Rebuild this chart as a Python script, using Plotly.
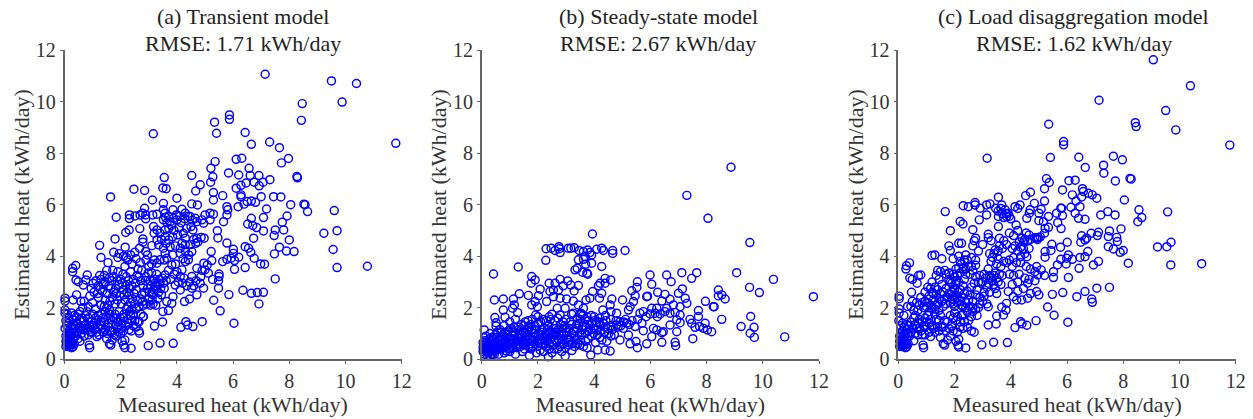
import plotly.graph_objects as go

tick_values = [0, 2, 4, 6, 8, 10, 12]
panel_title_lines = [("(a) Transient model", "RMSE: 1.71 kWh/day"),
                     ("(b) Steady-state model", "RMSE: 2.67 kWh/day"),
                     ("(c) Load disaggregation model", "RMSE: 1.62 kWh/day")]
x_label = "Measured heat (kWh/day)"
y_label = "Estimated heat (kWh/day)"

points_a = [
(7.14,11.06),(9.5,10.8),(10.39,10.7),(9.88,9.98),(8.46,9.92),(8.43,9.27),(11.79,8.38),(3.16,8.75),(5.87,9.48),(5.87,9.31),
(5.34,9.2),(5.41,8.77),(6.43,8.8),(6.65,8.34),(7.3,8.43),(7.65,8.21),(7.97,7.79),(7.72,7.62),(6.11,7.76),(6.31,7.8),
(5.36,7.67),(5.21,7.41),(5.28,7.08),(5.2,6.87),(4.53,7.13),(3.55,7.05),(5.84,7.23),(6.2,7.15),(6.57,7.41),(6.61,7.13),
(6.92,7.13),(7.31,6.97),(7.07,6.87),(6.75,6.87),(6.46,6.84),(6.28,6.75),(6.11,6.64),(6.93,6.73),(8.27,7.09),(8.29,7.04),
(4.83,6.77),(4.67,6.53),(3.5,6.65),(3.62,6.62),(2.47,6.6),(2.85,6.55),(1.64,6.3),(3.13,6.18),(4.0,6.25),(3.52,6.05),
(5.3,6.47),(5.3,6.18),(5.63,6.35),(6.28,6.38),(6.28,6.31),(7.0,6.31),(7.44,6.31),(7.7,6.3),(6.5,6.12),(6.65,6.14),
(6.39,6.02),(6.8,6.09),(8.05,6.0),(8.52,6.02),(8.56,6.0),(8.65,5.73),(9.6,5.77),(7.19,5.83),(6.18,5.92),(5.78,5.92),
(5.81,5.8),(5.78,5.6),(4.53,6.03),(4.73,5.99),(5.66,5.34),(5.44,4.99),(5.46,4.71),(6.65,5.47),(6.52,5.25),(6.7,5.19),
(6.84,5.11),(7.08,4.98),(7.08,5.5),(7.5,5.02),(7.46,4.8),(7.8,5.02),(7.75,5.32),(7.92,5.56),(6.73,4.7),(5.78,4.51),
(8.0,4.63),(9.23,4.89),(9.7,4.99),(9.56,4.26),(9.7,3.56),(10.78,3.61),(7.65,4.35),(7.47,4.09),(7.9,4.2),(8.17,4.18),
(7.5,3.12),(6.43,4.37),(6.55,4.31),(6.63,4.15),(6.75,3.92),(6.98,3.7),(7.12,3.69),(6.01,4.27),(6.01,4.11),(6.2,3.96),
(5.93,3.92),(5.78,3.88),(5.63,3.79),(6.05,3.83),(6.05,3.49),(6.43,3.56),(6.35,2.68),(6.65,2.56),(6.86,2.59),(7.08,2.6),
(6.92,2.15),(5.85,2.51),(6.03,1.4),(5.31,2.29),(5.54,1.88),(5.48,2.76),(5.5,3.31),(5.5,3.21),(5.48,3.05),(5.22,4.18),
(5.24,3.83),(5.08,3.66),(4.96,3.73),(5.12,3.34),(5.27,3.1),
(2.31,5.6),(2.31,5.46),(2.51,5.56),(2.69,5.6),(2.78,5.67),(2.89,5.6),(2.89,5.45),(3.14,5.6),(3.29,5.63),(2.85,5.86),
(1.84,5.51),(2.68,5.07),(2.18,4.92),(2.3,5.02),(1.8,4.67),(1.25,4.42),(1.3,3.95),(2.16,4.35),(2.79,4.67),(2.79,4.54),
(2.89,4.18),(2.67,4.31),(3.17,5.15),(3.19,4.89),(3.29,5.02),(3.4,4.89),(3.29,4.63),(3.35,4.44),(3.11,4.41),(3.52,5.41),
(3.58,5.67),(3.52,5.8),(3.86,5.8),(3.71,5.54),(3.88,5.47),(3.76,5.34),(4.0,5.41),(3.58,5.02),(3.71,5.08),(3.58,4.76),
(3.71,4.63),(3.52,4.31),(3.58,4.11),(3.76,4.37),(4.02,4.83),(4.18,4.5),(4.12,4.31),(4.12,4.11),(4.3,4.7),(4.23,4.89),
(4.35,5.08),(4.5,5.15),(4.57,5.02),(4.18,5.82),(4.3,5.67),(4.47,5.54),(4.65,5.47),(4.71,5.34),(4.95,5.28),(5.0,5.6),
(5.18,5.67),(5.3,5.63),(4.89,5.41),(5.18,5.41),(4.86,4.73),(4.97,4.7),(4.71,4.7),(4.67,4.5),(4.53,4.18),(4.41,3.86),
(4.3,3.79),(4.71,3.53),(4.18,3.47),(4.53,3.21),(4.12,3.21),(4.0,3.4),(3.94,2.88),(4.12,2.69),(4.27,2.24),(4.45,2.34),
(4.71,2.5),(4.53,2.76),(4.95,2.76),(4.83,2.95),(5.0,3.47),(3.86,2.43),(3.82,2.17),(3.7,1.89),(3.5,1.85),(3.49,1.45),
(3.2,1.29),(4.14,1.24),(4.32,1.46),(4.38,1.33),(4.57,1.27),(4.9,1.46),(2.98,0.53),(3.4,0.63),(3.87,0.62),(2.37,0.43),
(3.64,2.24),(3.64,3.92),(3.82,3.66),(3.4,3.86),(3.29,3.73),(3.58,3.27),(3.52,2.95),(3.29,2.82),(3.11,2.56),(2.81,1.66),
(2.67,1.01),(2.61,1.46),(0.4,3.64),(0.29,3.53),(0.29,3.4),(0.41,3.08),(0.49,3.01),(0.81,3.27),(0.76,3.08),(0.67,2.88),
(0.31,2.3),(0.43,2.5),(0.02,2.37),(0.02,2.26),(0.02,1.91),(0.02,1.79),
(0.05,0.5),(0.1,0.55),(0.15,0.6),(0.2,0.5),(0.25,0.45),(0.3,0.48),(0.05,0.7),(0.1,0.75),(0.15,0.8),(0.2,0.7),
(0.25,0.65),(0.3,0.8),(0.35,0.6),(0.05,0.9),(0.1,1.0),(0.15,1.1),(0.2,0.95),(0.25,1.0),(0.3,1.15),(0.35,1.0),
(0.4,0.9),(0.45,1.05),(0.02,1.2),(0.08,1.3),(0.15,1.4),(0.22,1.25),(0.3,1.35),(0.38,1.3),(0.45,1.4),(0.5,1.2),
(0.05,1.5),(0.15,1.6),(0.3,1.55),(0.42,1.65),(0.55,0.7),(0.6,1.0),(0.6,1.3),(0.55,1.55),(0.1,1.75),(0.25,1.8),
(0.7,0.9),(0.88,0.55),(0.9,0.45),(0.85,0.95),(0.75,1.2),(0.9,1.25),(0.7,1.5),(0.85,1.6),(1.0,1.05),(1.15,0.88),
(1.2,1.2),(1.05,1.4),(1.3,1.5),(1.2,1.7),(1.0,1.75),(0.8,1.85),(1.4,1.05),(1.5,0.8),(1.6,0.6),(1.65,0.55),
(1.7,0.75),(1.55,1.25),(1.7,1.1),(1.85,0.9),(1.9,1.25),(1.65,1.55),(1.85,1.6),(1.45,1.85),(1.6,1.9),(1.95,1.85),
(2.05,0.7),(2.1,0.55),(2.15,0.45),(2.15,0.75),(2.1,1.1),(2.3,1.15),(2.05,1.4),(2.25,1.55),(2.35,1.7),(2.5,1.5),
(2.65,1.45),(2.65,1.1),(2.45,1.3),(2.8,1.65),(0.85,2.05),(1.0,2.2),(0.9,2.45),(1.05,2.6),(1.2,2.4),(1.3,2.1),
(1.45,2.3),(1.35,2.65),(1.2,2.85),(1.3,3.1),(1.25,3.25),(1.45,3.0),(1.5,3.45),(1.55,3.75),(1.6,3.15),(1.65,2.75),
(1.7,2.4),(1.8,2.15),(1.85,2.55),(1.95,2.9),(1.75,3.2),(1.9,3.4),(2.0,3.1),(2.1,2.7),(2.15,2.3),(2.25,2.05),
(2.3,2.5),(2.4,2.85),(2.2,3.2),(2.35,3.4),(2.45,3.1),(2.55,2.7),(2.6,2.3),(2.65,2.05),(2.75,2.5),(2.8,2.85),
(2.65,3.2),(2.75,3.45),(2.15,3.6),(2.25,3.85),(2.4,3.7),(2.55,3.9),(2.7,3.75),(1.75,4.15),(1.95,4.1),(1.9,3.95),
(2.1,4.0),(2.2,3.95),(2.35,4.05),(2.5,4.15),(2.9,3.2),(2.95,2.75),(3.0,2.35),(3.05,2.1),(3.15,2.15),(3.25,2.1),
(3.15,2.5),(3.25,2.85),(3.05,3.05),(3.1,3.35),(3.2,3.1),(3.35,2.6),(3.4,2.95),(3.45,2.5),(3.0,3.6),(2.9,3.85),
(1.02,2.95),(1.12,3.05),(1.18,2.55),(1.28,2.72),(1.38,2.9),(1.42,3.25),(1.52,2.55),(1.58,2.85),(1.68,3.05),(1.72,3.45),
(1.82,2.75),(1.88,3.05),(1.98,2.45),(2.05,2.95),(2.08,3.3),(2.18,2.85),(2.28,3.05),(2.32,2.75),(2.42,2.35),(2.48,2.55),
(2.52,2.95),(2.58,3.25),(2.62,3.5),(2.72,3.05),(2.78,2.25),(2.85,2.6),(2.88,3.05),(2.98,3.35),(3.02,2.6),(3.08,2.85),
(3.12,2.3),(3.18,2.7),(3.22,2.95),(3.28,3.3),(3.32,2.35),(3.38,3.1),(3.42,2.75),(3.48,3.15),(3.55,2.75),(3.62,3.05),
(0.85,1.15),(0.95,1.45),(1.08,1.2),(1.1,1.6),(1.15,1.05),(1.25,1.35),(1.32,1.75),(1.35,1.2),(1.42,1.45),(1.48,1.65),
(1.52,1.0),(1.58,1.4),(1.62,1.75),(1.72,1.35),(1.78,0.95),(1.8,1.75),(1.92,1.05),(1.98,1.6),(2.02,1.2),(2.12,1.75),
(2.18,1.3),(2.2,1.95),(2.32,1.85),(2.4,1.95),(2.45,1.75),(2.55,1.95),(2.72,1.75),(2.82,2.1),(2.92,2.15),(1.1,1.95),
(0.12,0.5),(0.18,0.62),(0.08,0.62),(0.22,0.85),(0.12,0.9),(0.28,0.58),(0.18,1.0),(0.35,1.2),(0.12,1.2),(0.48,0.8),
(0.65,1.15),(0.7,1.3),(0.75,1.7),(0.55,1.85),(0.65,2.0),(0.7,2.25),(0.95,2.75),(0.58,2.25),(1.42,2.05),(1.55,2.1),
(3.55,3.85),(3.7,3.45),(3.78,3.1),(3.9,3.3),(3.95,3.7),(4.05,3.0),(4.2,2.95),(4.25,3.15),(4.35,2.85),(4.45,3.0),
(4.6,2.85),(4.68,3.05),(4.85,3.2),(4.9,3.45),(3.85,4.05),(3.95,4.4),(3.85,4.75),(3.9,5.0),(4.08,5.1),(4.15,5.3),
(4.28,5.45),(4.4,5.55),(4.55,5.4),(4.1,5.55),(3.98,5.6),(3.8,5.2),(3.65,5.3),(3.6,5.5),(3.45,4.65),(3.62,4.5),
(4.22,3.9),(4.3,4.2),(4.42,4.05),(4.48,4.45),(4.6,4.65),(4.75,4.55),(4.3,4.45),(3.2,3.85),(3.1,3.7),(2.95,4.05),
(0.35,1.7),(0.5,1.75),(0.62,1.6),(0.78,1.35),(0.92,1.05),(1.02,1.3),(1.12,1.5),(1.22,0.95),(1.3,1.3),(1.38,1.62),
(1.45,1.15),(1.62,1.1),(1.75,1.6),(1.9,1.45),(2.0,1.0),(2.08,1.62),(2.28,1.4),(2.38,1.1),(2.55,1.25),(2.4,1.5),
(1.5,2.0),(1.62,2.25),(1.75,2.6),(1.88,2.3),(2.02,2.15),(2.12,2.5),(2.22,2.6),(2.35,2.2),(2.5,2.15),(2.7,2.35),
]

points_b = [
(8.87,7.45),(7.3,6.36),(8.05,5.47),(9.54,4.53),(3.94,4.86),(2.29,4.29),(2.47,4.31),(2.61,4.22),(2.75,4.37),(2.76,4.29),
(2.79,4.14),(3.08,4.31),(3.17,4.31),(3.29,4.33),(3.47,4.22),(3.62,4.18),(3.77,4.24),(3.85,4.14),(3.91,4.05),(4.09,4.27),
(4.27,4.31),(4.33,4.22),(4.66,4.22),(4.66,4.11),(5.1,4.22),(2.28,3.84),(3.44,3.86),(3.62,3.88),(3.68,3.98),(3.7,3.69),
(3.91,3.73),(4.27,3.6),(3.32,3.47),(3.4,3.53),(3.59,3.38),(3.74,3.34),(3.77,3.3),(0.42,3.31),(1.3,3.58),(1.78,3.21),
(1.9,3.08),(1.76,2.95),(2.4,2.95),(2.79,3.1),(2.61,2.95),(3.06,3.04),(2.9,2.85),(3.17,2.88),(3.44,2.86),(3.29,2.65),
(2.43,2.63),(2.08,2.72),(2.55,2.69),(2.73,2.69),(4.39,3.14),(4.59,3.08),(4.21,2.95),(4.39,2.95),(4.15,2.85),(3.95,2.63),
(4.27,2.56),(4.19,2.37),(4.63,2.34),(3.85,2.37),(3.71,2.3),(0.45,2.3),(0.77,2.34),(0.77,1.91),(0.83,1.63),(0.47,1.62),
(0.51,1.42),(0.51,1.29),(0.09,1.14),(1.13,2.34),(1.34,2.54),(1.16,2.11),(1.1,1.98),(1.28,1.81),(1.66,2.48),(1.78,2.11),
(1.9,2.24),(2.02,2.47),(1.98,2.04),(2.31,2.24),(1.92,1.72),(2.55,2.43),(2.79,2.37),(3.02,2.34),(3.26,2.26),(3.44,2.11),
(2.69,1.98),(2.97,1.98),(2.79,1.72),(3.26,1.79),(3.62,1.98),(3.53,1.79),(4.31,1.91),(4.57,2.11),
(5.99,3.27),(6.05,2.91),(6.58,3.27),(6.74,3.01),(7.12,3.36),(7.65,3.36),(7.47,3.14),(9.07,3.36),(10.38,3.1),(9.53,2.79),
(9.88,2.59),(11.8,2.43),(5.54,3.01),(5.52,2.79),(5.34,2.66),(5.46,2.46),(5.87,2.43),(5.9,2.45),(6.26,2.6),(6.52,2.52),
(6.41,2.26),(6.7,2.33),(7.0,2.56),(7.14,2.73),(7.24,2.37),(7.3,2.17),(5.01,2.3),(5.4,2.24),(5.28,2.04),(5.22,1.91),
(6.05,1.98),(6.23,1.98),(6.58,1.98),(6.82,2.11),(7.06,2.04),(7.96,2.25),(8.24,2.04),(8.27,2.04),(8.42,2.69),(8.42,2.46),
(8.54,2.5),(8.66,2.34),(8.54,1.55),(9.57,1.66),(9.23,1.27),(9.69,1.24),(9.55,1.01),(9.7,0.85),(10.78,0.87),
(7.71,1.89),(7.71,1.66),(7.41,1.55),(7.47,1.4),(7.59,1.24),(7.75,1.27),(7.95,1.4),(7.89,1.2),(8.03,1.14),(8.18,1.07),
(7.51,0.8),(6.94,1.07),(6.88,0.66),(6.9,0.53),(6.41,0.66),(6.46,1.07),(6.05,0.88),(5.87,0.6),(5.54,0.45),(5.49,0.69),
(5.28,0.6),(5.22,0.94),(4.92,0.75),(4.57,0.32),(4.39,0.36),(3.88,0.17),(2.97,0.13),(3.21,0.34),(2.37,0.1),(4.13,0.36),
(5.63,1.79),(5.75,1.85),(5.99,1.76),(6.17,1.79),(6.35,1.76),(6.52,1.85),(6.7,1.79),(6.88,1.82),(7.06,1.72),(6.94,1.53),
(7.06,1.42),(6.7,1.33),(6.11,1.2),(6.23,1.14),(5.75,1.11),(6.41,1.03),(5.46,1.27),(5.16,1.4),(4.92,1.46),(4.8,1.33),
(5.04,1.2),(4.8,1.79),(4.6,1.85),(4.4,1.7),(4.2,1.6),(4.0,1.65),(3.8,1.5),(3.6,1.7),(3.4,1.6),(3.2,1.75),(3.0,1.55),
(4.6,1.3),(4.4,1.25),(4.2,1.35),(4.0,1.2),(3.8,1.1),(3.6,1.3),(3.4,1.2),(3.2,1.35),(3.0,1.2),(2.8,1.35),(2.6,1.5),(2.4,1.65),(2.2,1.55),(2.0,1.4),
(4.6,0.9),(4.45,0.7),(4.2,0.85),(4.05,0.65),(3.9,0.9),(3.7,0.7),(3.55,0.95),(3.35,0.75),(3.2,1.0),(3.05,0.8),(2.9,0.6),(2.75,0.95),(2.6,0.75),(2.45,1.05),(2.3,0.85),(2.15,1.15),
(0.05,0.3),(0.1,0.2),(0.15,0.35),(0.2,0.15),(0.25,0.25),(0.3,0.12),(0.35,0.3),(0.05,0.45),(0.1,0.55),(0.15,0.5),
(0.2,0.42),(0.25,0.6),(0.3,0.48),(0.35,0.55),(0.4,0.4),(0.45,0.2),(0.05,0.65),(0.12,0.72),(0.2,0.68),(0.28,0.8),
(0.36,0.72),(0.44,0.62),(0.5,0.35),(0.55,0.52),(0.6,0.2),(0.62,0.75),(0.7,0.4),(0.72,0.62),(0.75,0.95),(0.8,0.25),
(0.85,0.5),(0.9,0.8),(0.95,1.1),(1.0,0.3),(1.05,0.6),(1.1,0.9),(1.15,1.25),(1.2,0.2),(1.25,0.45),(1.3,0.7),
(1.35,1.0),(1.4,1.35),(1.45,0.3),(1.5,0.55),(1.55,0.85),(1.6,1.15),(1.65,1.5),(1.7,0.15),(1.75,0.4),(1.8,0.7),
(1.85,1.0),(1.9,1.3),(1.95,0.25),(2.0,0.5),(2.05,0.8),(2.1,1.05),(2.2,0.3),(2.25,0.6),(2.4,0.4),(2.5,0.25),
(2.55,0.55),(2.7,0.4),(2.85,0.3),(3.1,0.55),(3.3,0.5),(3.5,0.55),(3.75,0.45),(0.15,0.9),(0.3,1.0),(0.45,0.85),
(0.55,1.05),(0.65,1.15),(0.8,1.3),(1.0,1.45),(1.2,1.55),(1.5,1.3),(1.75,1.35),(2.0,1.65),(2.35,1.3),(2.65,1.2),
(0.95,0.65),(1.15,0.75),(1.4,0.85),(1.65,0.95),(1.9,0.6),(2.3,0.95),(2.55,1.2),(2.85,1.05),(3.15,1.45),(3.45,1.4),
(0.08,0.38),(0.18,0.28),(0.22,0.52),(0.32,0.38),(0.38,0.18),(0.42,0.52),(0.48,0.68),(0.58,0.38),(0.65,0.55),(0.68,0.88),
(0.78,0.45),(0.82,0.72),(0.88,0.32),(0.92,0.55),(0.98,0.85),(1.02,1.2),(1.08,0.42),(1.12,0.62),(1.18,0.95),(1.22,0.55),
(1.28,0.85),(1.32,1.15),(1.38,0.5),(1.42,0.7),(1.48,1.05),(1.52,0.4),(1.58,0.65),(1.62,0.95),(1.68,0.5),(1.72,0.8),
(1.78,1.15),(1.82,0.5),(1.88,0.85),(1.92,1.15),(1.98,0.7),(2.02,0.95),(2.08,0.35),(2.12,0.6),(2.18,0.85),(2.22,1.2),
(2.28,0.5),(2.32,0.72),(2.38,1.05),(2.42,0.6),(2.48,0.85),(2.52,1.05),(2.58,0.4),(2.62,0.95),(2.68,0.65),(2.72,1.15),
(2.78,0.5),(2.82,0.8),(2.88,1.2),(2.92,0.95),(2.98,0.45),(3.02,1.05),(3.08,0.65),(3.12,1.2),(3.18,0.85),(3.22,0.6),
(3.28,1.1),(3.32,0.9),(3.38,1.35),(3.42,0.6),(3.48,1.0),(3.52,0.75),(3.58,1.15),(3.62,0.5),(3.68,1.0),(3.72,1.25),
(3.78,0.8),(3.82,1.35),(3.88,1.15),(3.92,1.4),(3.98,1.0),(4.02,1.5),(4.08,1.15),(4.12,0.95),(4.18,1.45),(4.22,1.1),
(4.28,0.75),(4.32,1.4),(4.38,1.05),(4.42,1.5),(4.48,1.2),(4.52,1.0),(4.58,1.55),(4.65,1.15),(4.72,0.95),(4.78,1.5),
(4.85,1.25),(4.95,1.3),(5.05,1.45),(5.12,1.55),(5.25,1.35),(5.35,1.5),(5.55,1.55),(5.7,1.4),(5.85,1.65),(6.25,1.65),
(3.5,1.55),(3.7,1.55),(3.55,1.75),(3.75,1.65),(3.9,1.7),(4.1,1.45),(2.9,1.45),(2.7,1.6),(2.5,1.75),(2.3,1.5),
(1.1,1.1),(1.3,1.25),(1.55,1.45),(1.8,1.55),(2.1,1.45),(2.45,1.55),(0.35,0.85),(0.5,0.95),(0.7,1.05),(0.85,1.05),
(0.1,0.42),(0.14,0.62),(0.22,0.32),(0.28,0.42),(0.32,0.62),(0.42,0.3),(0.48,0.46),(0.52,0.62),(0.56,0.85),(0.62,0.48),
(0.74,0.78),(0.76,0.5),(0.84,0.62),(0.9,0.95),(0.96,0.42),(1.04,0.78),(1.1,0.5),(1.16,1.05),(1.24,0.7),(1.34,0.6),
(1.36,0.85),(1.44,0.95),(1.5,0.7),(1.56,1.05),(1.64,0.72),(1.7,1.25),(1.76,0.6),(1.84,0.75),(1.94,0.92),(2.04,0.62),
(2.14,0.95),(2.24,0.75),(2.34,1.15),(2.44,0.78),(2.54,0.95),(2.64,1.05),(2.74,0.75),(2.84,0.95),(2.94,1.3),(3.14,0.75),
]

points_c = [
(9.07,11.62),(10.39,10.61),(7.14,10.05),(9.51,9.65),(9.87,8.9),(8.43,9.18),(8.46,9.03),(11.79,8.31),(5.35,9.12),(5.88,8.45),
(5.88,8.32),(3.16,7.8),(5.41,7.83),(6.42,7.84),(7.65,7.88),(7.97,7.74),(7.3,7.53),(6.65,7.44),(7.31,7.22),(7.72,6.92),
(8.24,7.02),(8.28,6.99),(5.27,7.01),(5.37,6.86),(6.07,6.93),(6.29,6.95),(5.2,6.62),(5.84,6.57),(6.55,6.62),(6.58,6.51),
(6.76,6.44),(6.9,6.38),(7.06,6.25),(6.52,6.3),(6.19,6.38),(6.32,6.14),(6.46,5.92),(6.14,5.9),(5.81,5.86),(8.04,6.18),
(4.7,6.48),(4.53,6.35),(4.84,6.05),(5.2,6.14),(3.56,6.29),(1.67,5.73),(1.85,4.99),(2.31,5.96),(2.49,5.92),(2.73,6.08),
(2.73,5.99),(2.91,5.86),(3.14,5.99),(3.26,6.03),(3.14,5.6),(2.88,5.41),(3.46,5.86),(3.68,5.99),(3.8,5.8),(3.91,5.67),
(3.85,5.54),(3.56,5.54),(3.56,5.15),(4.15,5.92),(4.33,5.99),(4.25,5.85),(4.69,5.8),(4.66,5.67),(4.57,5.47),(4.19,5.21),
(5.0,5.67),(5.08,5.82),(5.0,5.38),(5.16,5.34),(5.34,5.54),(5.22,5.08),(5.34,5.12),(5.2,4.89),(5.63,5.67),(5.78,5.86),
(5.84,5.58),(5.67,5.3),(5.79,5.07),(6.29,5.67),(6.41,5.47),(6.64,5.43),(7.2,5.6),(7.45,5.73),(7.71,5.6),(8.56,5.8),
(8.66,5.5),(8.52,5.34),(9.58,5.72),(7.92,5.06),(7.51,4.98),(7.47,4.76),(7.77,4.73),(7.79,4.57),(7.12,4.93),(7.08,4.8),
(6.86,4.89),(6.52,4.79),(6.7,4.7),(6.64,4.63),(6.49,4.54),(6.01,4.54),(5.46,4.46),(5.22,4.18),(5.43,4.22),(5.22,3.96),
(5.77,4.35),(7.47,4.37),(7.65,4.28),(7.89,4.15),(8.0,4.22),(6.74,4.18),(6.64,3.98),(6.46,3.95),(6.19,3.88),(6.05,4.05),
(5.99,3.92),(5.97,3.7),(5.78,3.88),(5.66,3.66),(5.52,3.4),(5.52,3.17),(6.94,3.66),(7.12,3.8),(8.18,3.73),(9.22,4.36),
(9.55,4.37),(9.7,4.54),(9.69,3.66),(10.79,3.71),(6.43,3.53),(6.05,3.17),(7.51,2.79),(7.06,2.76),(6.64,2.63),(6.35,2.43),
(5.85,2.59),(5.48,2.52),(5.31,2.03),(5.54,1.71),(6.03,1.44),(6.88,2.34),(6.9,2.21),(4.92,3.6),(5.08,3.47),(4.86,3.4),
(4.96,3.27),(5.2,3.25),(4.86,3.05),(4.92,2.63),(5.0,2.5),(4.9,1.5),(4.57,1.32),(4.35,1.46),(4.15,1.23),(4.4,1.38),
(3.88,0.65),(3.39,0.66),(2.97,0.56),(2.4,0.44),(3.2,1.33),(3.48,1.37),(3.5,1.68),(3.74,1.72),(3.83,1.91),(3.85,2.17),
(3.68,2.02),(3.2,2.04),(4.6,2.37),(4.39,2.3),(4.21,2.3),(3.91,2.63),(4.09,2.43),
(4.98,4.73),(4.92,4.7),(4.85,4.72),(4.55,4.9),(4.65,4.82),(4.4,4.7),(4.3,4.55),(4.15,4.4),(4.05,4.3),(4.25,4.2),
(4.45,4.3),(4.65,4.3),(4.5,4.1),(4.35,3.98),(4.57,3.98),(4.1,3.95),(4.35,3.75),(3.95,3.85),(3.75,3.8),(3.55,3.9),
(3.35,3.95),(3.25,4.1),(3.45,4.25),(3.6,4.4),(3.3,4.6),(3.2,4.72),(3.2,4.85),(3.6,4.7),(3.75,4.6),(3.95,4.9),
(4.1,4.8),(4.25,5.0),(2.75,4.7),(2.7,4.6),(2.85,4.2),(2.65,4.4),(3.0,4.45),(2.2,5.35),(2.3,5.25),(2.65,5.03),
(2.15,4.5),(2.25,4.5),(1.8,4.4),(1.85,4.22),(2.15,4.0),(1.95,3.9),(1.3,4.05),(1.2,4.03),(1.55,3.9),(2.4,4.05),
(2.45,3.85),(2.6,3.95),(2.75,3.85),(4.55,3.6),(4.7,3.5),(4.3,3.3),(4.1,3.25),(3.95,3.3),(4.5,3.15),(4.65,3.1),
(3.7,3.25),(3.45,3.35),(3.2,3.5),(3.05,3.3),(3.3,3.15),(3.55,3.0),(3.4,2.9),(3.15,2.8),(2.95,2.95),(3.25,2.6),
(3.5,2.55),(3.05,2.45),(2.9,2.4),(2.75,2.5),(2.65,2.25),(2.85,2.0),(2.65,1.85),(2.8,1.7),(2.7,1.05),(2.6,1.1),
(4.05,2.9),(4.25,2.65),(4.45,2.75),(4.6,2.95),(4.7,2.55),(4.25,3.0),
(0.4,3.74),(0.29,3.63),(0.27,3.5),(0.41,3.15),(0.5,3.1),(0.8,3.27),(0.72,3.25),(0.67,2.95),(0.47,2.6),(0.03,2.45),
(0.03,2.35),(0.03,1.95),(0.03,1.8),(0.33,2.05),(0.5,2.25),(0.45,2.05),(0.8,2.4),(0.95,2.6),(1.05,2.8),(1.15,2.75),
(1.3,2.8),(1.35,2.5),(1.25,2.3),(1.05,2.2),(1.4,3.45),(1.5,3.4),(1.35,3.25),(1.7,3.3),(1.8,3.1),(1.9,2.95),
(2.0,3.2),(2.15,3.0),(2.2,3.35),(2.05,3.5),(2.25,3.7),(2.4,3.5),(2.55,3.3),(2.6,3.6),(2.35,3.1),(1.6,2.6),
(1.75,2.4),(1.9,2.35),(2.0,2.3),(2.1,2.2),(1.95,2.15),(2.05,2.5),(2.2,2.7),(2.35,2.55),(2.5,2.3),(2.3,2.05),
(1.6,2.05),(1.45,1.9),(1.3,1.95),(1.1,1.85),(0.9,2.0),(0.7,1.9),(0.6,1.7),
(0.05,0.5),(0.1,0.55),(0.15,0.6),(0.2,0.5),(0.25,0.45),(0.3,0.48),(0.05,0.7),(0.1,0.75),(0.15,0.8),(0.2,0.7),
(0.25,0.65),(0.3,0.8),(0.35,0.6),(0.05,0.9),(0.1,1.0),(0.15,1.1),(0.2,0.95),(0.25,1.0),(0.3,1.15),(0.35,1.0),
(0.4,0.9),(0.45,1.05),(0.02,1.5),(0.08,1.3),(0.15,1.4),(0.22,1.25),(0.3,1.35),(0.38,1.3),(0.45,1.45),(0.5,1.2),
(0.55,0.72),(0.6,1.0),(0.6,1.35),(0.55,1.6),(0.2,1.7),(0.88,0.55),(0.9,0.45),(0.85,0.95),(0.75,1.2),(0.9,1.3),
(0.75,1.55),(0.95,1.6),(1.1,1.05),(1.15,0.88),(1.25,1.2),(1.1,1.4),(1.35,1.55),(1.6,0.6),(1.65,0.55),(1.75,0.75),
(1.5,0.85),(1.55,1.25),(1.7,1.1),(1.85,0.9),(1.9,1.3),(1.65,1.5),(1.85,1.7),(2.05,0.7),(2.12,0.55),(2.15,0.48),
(2.15,0.78),(2.1,1.05),(2.3,1.2),(2.05,1.5),(2.25,1.7),
(0.65,1.2),(0.7,1.4),(0.8,1.1),(0.85,1.45),(0.95,1.25),(1.0,1.45),(1.05,1.7),(1.15,1.55),(1.2,1.3),(1.3,1.75),
(1.4,1.25),(1.45,1.5),(1.5,1.7),(1.6,1.25),(1.75,1.45),(1.8,1.2),(1.95,1.6),(2.0,1.8),(2.1,1.65),(2.2,1.45),
(0.55,1.9),(0.65,2.2),(0.75,2.1),(0.85,2.2),(0.95,2.25),(1.0,2.05),(1.15,2.1),(1.2,2.0),(1.4,2.15),(1.45,2.35),
(1.55,2.25),(1.7,2.15),(1.8,2.55),(1.85,2.2),(1.9,2.6),(1.95,2.45),(2.0,2.05),(2.1,2.4),(2.15,2.6),(2.2,2.25),
(2.25,2.4),(2.3,2.85),(2.4,2.2),(2.45,2.65),(2.55,2.5),(2.6,2.8),(2.7,2.95),(2.8,2.7),(2.85,3.0),(2.9,3.25),
(3.0,3.0),(3.1,3.15),(3.2,2.95),(3.25,3.25),(3.35,3.05),(3.4,3.25),(3.45,2.75),(3.5,3.15),(3.6,3.3),(3.65,2.9),
(1.2,3.0),(1.25,2.55),(1.4,2.7),(1.45,3.1),(1.55,2.9),(1.65,3.45),(1.8,3.35),(1.85,3.0),(1.95,3.3),(2.05,3.05),
(2.1,3.25),(2.15,3.55),(2.2,3.8),(2.3,3.5),(2.35,3.85),(2.4,3.3),(2.5,3.6),(2.65,3.45),(2.75,3.2),(2.75,3.65),
(2.3,1.75),(2.4,2.0),(2.45,1.85),(2.55,2.05),(2.65,2.0),(2.75,1.95),(2.9,2.15),(3.0,2.25),(3.15,2.15),(3.05,2.6),
(3.4,4.1),(3.55,4.2),(3.7,4.3),(3.85,4.45),(3.3,3.8),(3.5,3.7),(3.65,3.6),(3.85,3.75),(4.05,3.6),(4.2,3.75),
(3.75,5.5),(3.85,5.65),(3.95,5.55),(3.7,5.65),(4.0,5.45),(3.55,5.75),(3.65,5.85),(4.45,4.55),(4.5,4.65),(4.35,4.35),
(4.6,4.6),(4.7,4.65),(5.05,4.75),(4.95,4.65),(0.12,0.5),(0.18,0.62),(0.08,0.62),(0.22,0.85),(0.12,0.9),(0.28,0.58),
(0.7,0.95),(0.95,0.95),(1.3,1.05),(1.45,1.1),(1.95,1.1),(2.2,1.25),(2.35,1.45),(2.5,1.5),(2.6,1.65),(2.45,1.25),
(1.1,2.45),(1.2,2.6),(1.35,2.1),(1.5,2.55),(1.65,2.35),(1.7,2.75),(2.0,2.7),(2.25,2.1),(2.05,2.9),(1.95,2.8),
]

fig = go.Figure()
left_px = [64.5, 481.7, 898.3]
right_px = [401.7, 819.0, 1235.7]
title_px = [243, 658, 1073.5]
panels = [points_a, points_b, points_c]
W, H = 1253, 419
annotations = []
for i, pts in enumerate(panels):
    suffix = "" if i == 0 else str(i + 1)
    fig.add_trace(go.Scatter(
        x=[p[0] for p in pts], y=[p[1] for p in pts],
        mode="markers", xaxis="x" + suffix, yaxis="y" + suffix,
        cliponaxis=False, showlegend=False,
        marker=dict(symbol="circle-open", size=8, color="#0000ff", line=dict(width=1.45, color="#0000ff")),
    ))
    axis_style = dict(range=[0, 12], tickmode="array", tickvals=tick_values, ticks="outside",
                      ticklen=3, tickwidth=1.3, tickcolor="#666666", showgrid=False, zeroline=False,
                      showline=True, linewidth=1.6, linecolor="#666666", mirror=False,
                      tickfont=dict(family="Liberation Serif", size=20, color="#333333"),
                      automargin=False)
    fig.layout["xaxis" + suffix] = dict(
        axis_style, domain=[left_px[i] / W, right_px[i] / W], anchor="y" + suffix,
        title=dict(text=x_label, standoff=3, font=dict(family="Liberation Serif", size=22, color="#333333")))
    fig.layout["yaxis" + suffix] = dict(
        axis_style, domain=[(H - 359.3) / H, (H - 50) / H], anchor="x" + suffix,
        title=dict(text=y_label, standoff=0, font=dict(family="Liberation Serif", size=22, color="#333333")))
    for line, y_px in zip(panel_title_lines[i], (17, 43)):
        annotations.append(dict(text=line, x=title_px[i] / W, y=1 - y_px / H, xref="paper", yref="paper",
                                xanchor="center", yanchor="middle", showarrow=False,
                                font=dict(family="Liberation Serif", size=22, color="#222222")))

fig.update_layout(width=W, height=H, margin=dict(l=0, r=0, t=0, b=0),
                  paper_bgcolor="white", plot_bgcolor="white", annotations=annotations)
fig.write_html("out.html", config={"displayModeBar": False},
               post_script="document.body.style.margin='0';document.body.style.overflow='hidden';")
